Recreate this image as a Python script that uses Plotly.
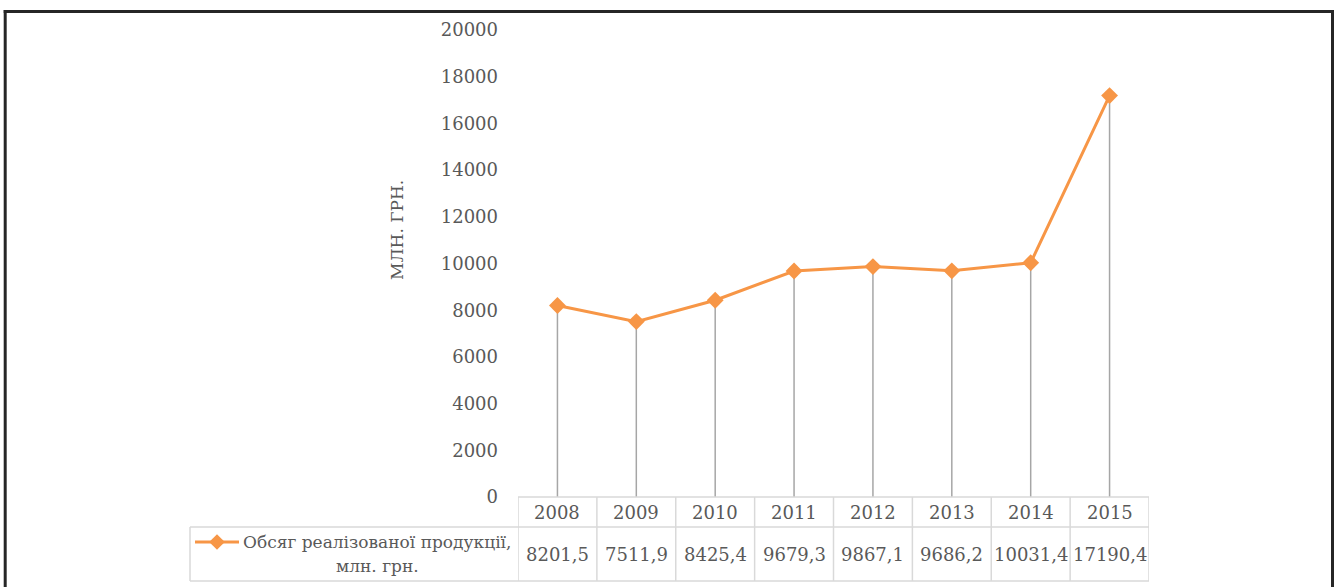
import plotly.graph_objects as go

years = ["2008", "2009", "2010", "2011", "2012", "2013", "2014", "2015"]
values = [8201.5, 7511.9, 8425.4, 9679.3, 9867.1, 9686.2, 10031.4, 17190.4]
value_labels = ["8201,5", "7511,9", "8425,4", "9679,3", "9867,1", "9686,2", "10031,4", "17190,4"]
series_name_lines = ["Обсяг реалізованої продукції,", "млн. грн."]
y_title = "МЛН. ГРН."
y_ticks = [0, 2000, 4000, 6000, 8000, 10000, 12000, 14000, 16000, 18000, 20000]

W, H = 1336, 587
OFF = 0  # body margin removed via post_script
FONT = "DejaVu Serif"
ORANGE = "#F79646"
GRID = "#D9D9D9"
DROP = "#A6A6A6"
TXT = "#595959"

# on-screen pixel geometry
PL, PR = 518, 1149   # plot area left/right
PT, PB = 30, 497     # y=20000 / y=0
ROW1, ROW2 = 527, 581
LEG_L = 190

n = len(years)
xs = list(range(n))

fig = go.Figure()

# drop lines
dx, dy = [], []
for i, v in zip(xs, values):
    dx += [i, i, None]
    dy += [0, v, None]
fig.add_trace(go.Scatter(x=dx, y=dy, mode="lines", line=dict(color=DROP, width=1.5),
                         hoverinfo="skip", showlegend=False))

fig.add_trace(go.Scatter(x=xs, y=values, mode="lines+markers",
                         line=dict(color=ORANGE, width=3),
                         marker=dict(symbol="diamond", size=13, color=ORANGE),
                         hoverinfo="skip", showlegend=False))

# legend key in screen-pixel space
fig.add_trace(go.Scatter(x=[195, 239], y=[542, 542], mode="lines", line=dict(color=ORANGE, width=3),
                         xaxis="x2", yaxis="y2", hoverinfo="skip", showlegend=False))
fig.add_trace(go.Scatter(x=[217], y=[542], mode="markers",
                         marker=dict(symbol="diamond", size=12, color=ORANGE),
                         xaxis="x2", yaxis="y2", hoverinfo="skip", showlegend=False))

shapes = []
# table horizontal lines
shapes.append(dict(type="line", xref="x", yref="y2", x0=-0.5, x1=n - 0.5, y0=PB, y1=PB,
                   line=dict(color=GRID, width=1.5)))
for yy in (ROW1, ROW2):
    shapes.append(dict(type="line", xref="x2", yref="y2", x0=LEG_L, x1=PR, y0=yy, y1=yy,
                       line=dict(color=GRID, width=1.5)))
# table vertical lines
for k in range(n + 1):
    shapes.append(dict(type="line", xref="x", yref="y2", x0=k - 0.5, x1=k - 0.5, y0=PB, y1=ROW2,
                       line=dict(color=GRID, width=1.5)))
shapes.append(dict(type="line", xref="x2", yref="y2", x0=LEG_L, x1=LEG_L, y0=ROW1, y1=ROW2,
                   line=dict(color=GRID, width=1.5)))
# outer border (left, top, right)
BL, BT, BR, BB = 5.2, 11.5, 1332.5, H + OFF
for (x0, y0, x1, y1) in [(BL - 1.5, BT, BR + 1.5, BT), (BL, BT - 1.5, BL, BB), (BR, BT - 1.5, BR, BB)]:
    shapes.append(dict(type="line", xref="x2", yref="y2", x0=x0, y0=y0, x1=x1, y1=y1,
                       line=dict(color="#262626", width=3)))

annotations = []
for i, (yr, vl) in enumerate(zip(years, value_labels)):
    annotations.append(dict(x=i, y=512, xref="x", yref="y2", text=yr, showarrow=False,
                            font=dict(family=FONT, size=18, color=TXT)))
    annotations.append(dict(x=i, y=554, xref="x", yref="y2", text=vl, showarrow=False,
                            font=dict(family=FONT, size=18, color=TXT)))
annotations.append(dict(x=377, y=542, xref="x2", yref="y2", text=series_name_lines[0], showarrow=False,
                        font=dict(family=FONT, size=17, color=TXT)))
annotations.append(dict(x=377, y=566, xref="x2", yref="y2", text=series_name_lines[1], showarrow=False,
                        font=dict(family=FONT, size=17, color=TXT)))
annotations.append(dict(x=397, y=230, xref="x2", yref="y2", text=y_title, showarrow=False, textangle=-90,
                        font=dict(family=FONT, size=17, color=TXT)))

fig.update_layout(
    width=W, height=H,
    margin=dict(l=0, r=0, t=0, b=0, pad=0, autoexpand=False),
    paper_bgcolor="white", plot_bgcolor="rgba(0,0,0,0)",
    font=dict(family=FONT, size=18, color=TXT),
    xaxis=dict(domain=[(PL - OFF) / W, (PR - OFF) / W], range=[-0.5, n - 0.5], showticklabels=False,
               showgrid=False, zeroline=False, showline=False, fixedrange=True, automargin=False),
    yaxis=dict(domain=[1 - (PB - OFF) / H, 1 - (PT - OFF) / H], range=[0, 20000], tickvals=y_ticks,
               ticktext=[str(t) for t in y_ticks], showgrid=False, zeroline=False, showline=False,
               ticks="", ticklabelstandoff=19, tickfont=dict(family=FONT, size=18, color=TXT),
               fixedrange=True, automargin=False),
    xaxis2=dict(domain=[0, 1], range=[OFF, W + OFF], visible=False, fixedrange=True, anchor="y2",
                automargin=False),
    yaxis2=dict(domain=[0, 1], range=[H + OFF, OFF], visible=False, fixedrange=True, anchor="x2",
                automargin=False),
    shapes=shapes,
    annotations=annotations,
)

fig.write_html("out.html",
               config={"displayModeBar": False, "staticPlot": True},
               post_script="document.body.style.margin='0';document.body.style.overflow='hidden';")
